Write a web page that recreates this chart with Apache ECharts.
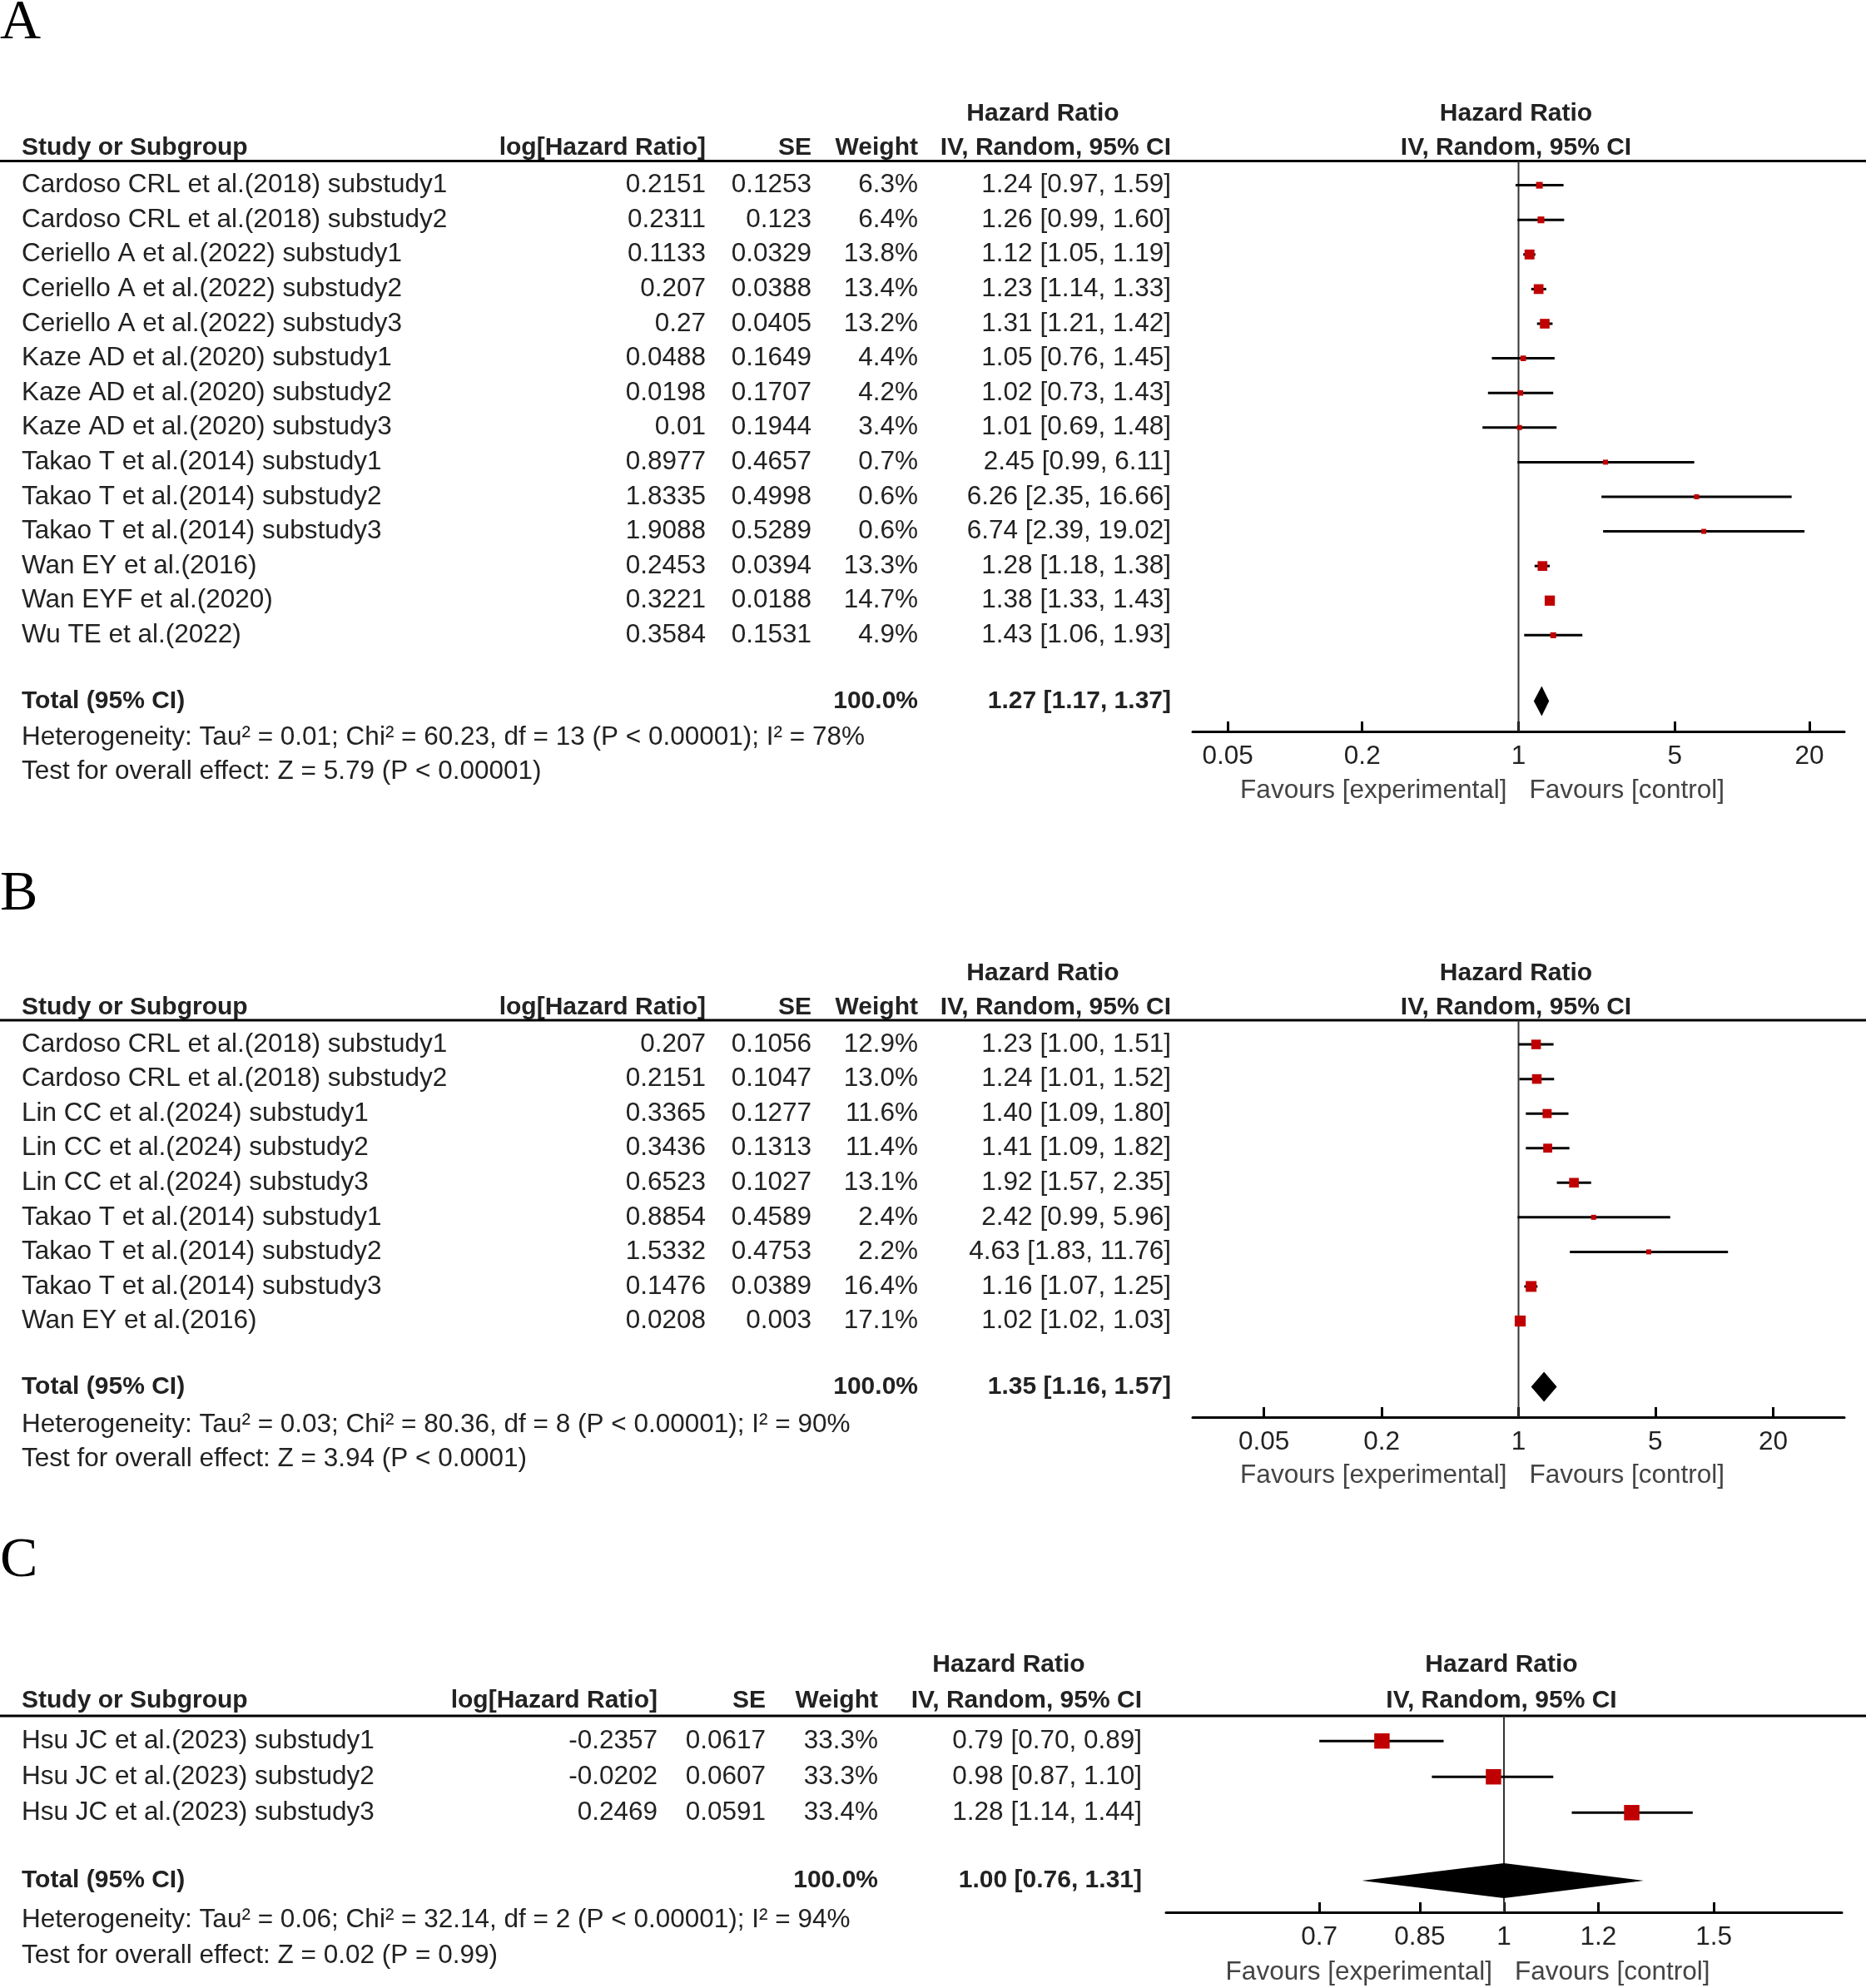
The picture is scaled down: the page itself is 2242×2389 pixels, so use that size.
<!DOCTYPE html>
<html><head><meta charset="utf-8">
<script src="https://cdn.jsdelivr.net/npm/echarts@6/dist/echarts.min.js"></script>
<style>html,body{margin:0;padding:0;background:#fff}#c{width:2242px;height:2389px}</style>
</head><body><div id="c"></div>
<script>
// ---------- Panel A data ----------
const studiesA = ["Cardoso CRL et al.(2018) substudy1","Cardoso CRL et al.(2018) substudy2","Ceriello A et al.(2022) substudy1","Ceriello A et al.(2022) substudy2","Ceriello A et al.(2022) substudy3","Kaze AD et al.(2020) substudy1","Kaze AD et al.(2020) substudy2","Kaze AD et al.(2020) substudy3","Takao T et al.(2014) substudy1","Takao T et al.(2014) substudy2","Takao T et al.(2014) substudy3","Wan EY et al.(2016)","Wan EYF et al.(2020)","Wu TE et al.(2022)"];
const logHRA = [0.2151,0.2311,0.1133,0.207,0.27,0.0488,0.0198,0.01,0.8977,1.8335,1.9088,0.2453,0.3221,0.3584];
const seA = [0.1253,0.123,0.0329,0.0388,0.0405,0.1649,0.1707,0.1944,0.4657,0.4998,0.5289,0.0394,0.0188,0.1531];
const weightA = [6.3,6.4,13.8,13.4,13.2,4.4,4.2,3.4,0.7,0.6,0.6,13.3,14.7,4.9];
const hrA = [1.24,1.26,1.12,1.23,1.31,1.05,1.02,1.01,2.45,6.26,6.74,1.28,1.38,1.43];
const lowA = [0.97,0.99,1.05,1.14,1.21,0.76,0.73,0.69,0.99,2.35,2.39,1.18,1.33,1.06];
const highA = [1.59,1.60,1.19,1.33,1.42,1.45,1.43,1.48,6.11,16.66,19.02,1.38,1.43,1.93];
const totalA = [1.27,1.17,1.37];
const hetA = "Heterogeneity: Tau² = 0.01; Chi² = 60.23, df = 13 (P < 0.00001); I² = 78%";
const testA = "Test for overall effect: Z = 5.79 (P < 0.00001)";

// ---------- Panel B data ----------
const studiesB = ["Cardoso CRL et al.(2018) substudy1","Cardoso CRL et al.(2018) substudy2","Lin CC et al.(2024) substudy1","Lin CC et al.(2024) substudy2","Lin CC et al.(2024) substudy3","Takao T et al.(2014) substudy1","Takao T et al.(2014) substudy2","Takao T et al.(2014) substudy3","Wan EY et al.(2016)"];
const logHRB = [0.207,0.2151,0.3365,0.3436,0.6523,0.8854,1.5332,0.1476,0.0208];
const seB = [0.1056,0.1047,0.1277,0.1313,0.1027,0.4589,0.4753,0.0389,0.003];
const weightB = [12.9,13.0,11.6,11.4,13.1,2.4,2.2,16.4,17.1];
const hrB = [1.23,1.24,1.40,1.41,1.92,2.42,4.63,1.16,1.02];
const lowB = [1.00,1.01,1.09,1.09,1.57,0.99,1.83,1.07,1.02];
const highB = [1.51,1.52,1.80,1.82,2.35,5.96,11.76,1.25,1.03];
const totalB = [1.35,1.16,1.57];
const hetB = "Heterogeneity: Tau² = 0.03; Chi² = 80.36, df = 8 (P < 0.00001); I² = 90%";
const testB = "Test for overall effect: Z = 3.94 (P < 0.0001)";

// ---------- Panel C data ----------
const studiesC = ["Hsu JC et al.(2023) substudy1","Hsu JC et al.(2023) substudy2","Hsu JC et al.(2023) substudy3"];
const logHRC = [-0.2357,-0.0202,0.2469];
const seC = [0.0617,0.0607,0.0591];
const weightC = [33.3,33.3,33.4];
const hrC = [0.79,0.98,1.28];
const lowC = [0.70,0.87,1.14];
const highC = [0.89,1.10,1.44];
const totalC = [1.00,0.76,1.31];
const hetC = "Heterogeneity: Tau² = 0.06; Chi² = 32.14, df = 2 (P < 0.00001); I² = 94%";
const testC = "Test for overall effect: Z = 0.02 (P = 0.99)";

// ---------- tick labels ----------
const ticksAB = ["0.05","0.2","1","5","20"];
const ticksC = ["0.7","0.85","1","1.2","1.5"];

const FONT = '"Liberation Sans", Arial, sans-serif';
const TXT = '#222';
const REG = 31.5;

const panels = [
  {label:'A', studies:studiesA, logHR:logHRA, se:seA, weight:weightA, hr:hrA, low:lowA, high:highA, total:totalA, het:hetA, test:testA, ticks:ticksAB,
   labelY:28, top:193.5, axisY:879, left:1433, right:26, range:1.4575, dH:18,
   cLog:848, cSe:975, cW:1103, cCi:1407, cHdr:1253, hY1:137, hY2:178, hetY:886, testY:927.5, favY:950},
  {label:'B', studies:studiesB, logHR:logHRB, se:seB, weight:weightB, hr:hrB, low:lowB, high:highB, total:totalB, het:hetB, test:testB, ticks:ticksAB,
   labelY:1075, top:1226, axisY:1703, left:1433, right:26, range:1.665, dH:18,
   cLog:848, cSe:975, cW:1103, cCi:1407, cHdr:1253, hY1:1170, hY2:1211, hetY:1712, testY:1753, favY:1773},
  {label:'C', studies:studiesC, logHR:logHRC, se:seC, weight:weightC, hr:hrC, low:lowC, high:highC, total:totalC, het:hetC, test:testC, ticks:ticksC,
   labelY:1876, top:2062, axisY:2298, left:1401, right:29, range:0.2835, dH:21,
   cLog:790, cSe:920, cW:1055, cCi:1372, cHdr:1212, hY1:2001, hY2:2044, hetY:2307, testY:2350, favY:2370}
];

function txt(text, x, y, align, bold, color, size, family) {
  const sz = size || (bold ? 30 : REG);
  return {type:'text', x:x, y:y, silent:true,
    style:{text:text, align:align, verticalAlign:'middle', textAlign:align, textVerticalAlign:'middle',
      font:(bold?'bold ':'') + sz + 'px ' + (family||FONT), fill: color||TXT}};
}
function ciStr(h,l,u){ return h.toFixed(2)+' ['+l.toFixed(2)+', '+u.toFixed(2)+']'; }

const grids=[], xAxes=[], yAxes=[], series=[], graphics=[];

panels.forEach((p, gi) => {
  const n = p.studies.length;
  const yMin = -0.7, yMax = n + 1.78, totIdx = n + 0.9;
  grids.push({left:p.left, right:p.right, top:p.top, height:p.axisY - p.top});
  const tickVals = p.ticks.map(t => Math.log10(parseFloat(t)));
  xAxes.push({gridIndex:gi, type:'value', min:-p.range, max:p.range,
    axisLine:{show:true, onZero:false, lineStyle:{color:'#000', width:3}},
    axisTick:{show:true, inside:true, length:12, customValues:tickVals, lineStyle:{color:'#000', width:3}},
    axisLabel:{show:true, customValues:tickVals, margin:14, fontSize:REG, fontFamily:FONT, color:TXT,
      formatter: v => { let best=p.ticks[0], bd=1e9; p.ticks.forEach(t=>{const d=Math.abs(Math.log10(parseFloat(t))-v); if(d<bd){bd=d;best=t;}}); return best; }},
    splitLine:{show:false}});
  yAxes.push({gridIndex:gi, type:'value', inverse:true, min:yMin, max:yMax, show:false});

  // null line
  series.push({type:'custom', xAxisIndex:gi, yAxisIndex:gi, z:1, silent:true,
    data:[[0, yMin, yMax]], encode:{x:0, y:[1,2]},
    renderItem:(params, api) => {
      const a = api.coord([api.value(0), api.value(1)]);
      const b = api.coord([api.value(0), api.value(2)]);
      return {type:'line', shape:{x1:a[0], y1:a[1], x2:b[0], y2:b[1]}, style:{stroke:'#333', lineWidth:2}};
    }});

  // studies
  series.push({type:'custom', xAxisIndex:gi, yAxisIndex:gi, z:3, silent:true,
    data: p.hr.map((h,i) => [Math.log10(h), i, Math.log10(p.low[i]), Math.log10(p.high[i]), p.weight[i]]),
    encode:{x:[0,2,3], y:1},
    renderItem:(params, api) => {
      const i = params.dataIndex;
      const c = api.coord([api.value(0), api.value(1)]);
      const l = api.coord([api.value(2), api.value(1)]);
      const u = api.coord([api.value(3), api.value(1)]);
      const y = c[1];
      const s = Math.max(6, 3.2 * Math.sqrt(api.value(4)));
      return {type:'group', children:[
        {type:'line', shape:{x1:l[0], y1:y, x2:u[0], y2:y}, style:{stroke:'#000', lineWidth:3}},
        {type:'rect', shape:{x:c[0]-s/2, y:y-s/2, width:s, height:s}, style:{fill:'#c00000'}},
        txt(p.studies[i], 26, y, 'left'),
        txt(String(p.logHR[i]), p.cLog, y, 'right'),
        txt(String(p.se[i]), p.cSe, y, 'right'),
        txt(p.weight[i].toFixed(1)+'%', p.cW, y, 'right'),
        txt(ciStr(p.hr[i], p.low[i], p.high[i]), p.cCi, y, 'right')
      ]};
    }});

  // total
  series.push({type:'custom', xAxisIndex:gi, yAxisIndex:gi, z:3, silent:true,
    data:[[Math.log10(p.total[0]), totIdx, Math.log10(p.total[1]), Math.log10(p.total[2])]],
    encode:{x:[0,2,3], y:1},
    renderItem:(params, api) => {
      const c = api.coord([api.value(0), api.value(1)]);
      const l = api.coord([api.value(2), api.value(1)]);
      const u = api.coord([api.value(3), api.value(1)]);
      const y = c[1], h = p.dH;
      return {type:'group', children:[
        {type:'polygon', shape:{points:[[l[0],y],[c[0],y-h],[u[0],y],[c[0],y+h]]}, style:{fill:'#000'}},
        txt('Total (95% CI)', 26, y, 'left', true),
        txt('100.0%', p.cW, y, 'right', true),
        txt(ciStr(p.total[0], p.total[1], p.total[2]), p.cCi, y, 'right', true)
      ]};
    }});

  // static texts
  const nullX = p.left + (2242 - p.left - p.right)/2;
  graphics.push(txt(p.label, 0, p.labelY, 'left', false, '#000', 68, '"Liberation Serif", "Times New Roman", serif'));
  graphics.push(txt('Hazard Ratio', p.cHdr, p.hY1, 'center', true));
  graphics.push(txt('Study or Subgroup', 26, p.hY2, 'left', true));
  graphics.push(txt('log[Hazard Ratio]', p.cLog, p.hY2, 'right', true));
  graphics.push(txt('SE', p.cSe, p.hY2, 'right', true));
  graphics.push(txt('Weight', p.cW, p.hY2, 'right', true));
  graphics.push(txt('IV, Random, 95% CI', p.cCi, p.hY2, 'right', true));
  graphics.push(txt('Hazard Ratio', nullX - 3, p.hY1, 'center', true));
  graphics.push(txt('IV, Random, 95% CI', nullX - 3, p.hY2, 'center', true));
  graphics.push({type:'line', silent:true, shape:{x1:0, y1:p.top, x2:2242, y2:p.top}, style:{stroke:'#000', lineWidth:3}});
  graphics.push(txt(p.het, 26, p.hetY, 'left'));
  graphics.push(txt(p.test, 26, p.testY, 'left'));
  graphics.push(txt('Favours [experimental]', nullX - 14, p.favY, 'right', false, '#444'));
  graphics.push(txt('Favours [control]', nullX + 13, p.favY, 'left', false, '#444'));
});

const chart = echarts.init(document.getElementById('c'), null, {renderer:'canvas'});
chart.setOption({
  backgroundColor:'#fff', animation:false,
  grid:grids, xAxis:xAxes, yAxis:yAxes, series:series, graphic:graphics
});
</script>
</body></html>
